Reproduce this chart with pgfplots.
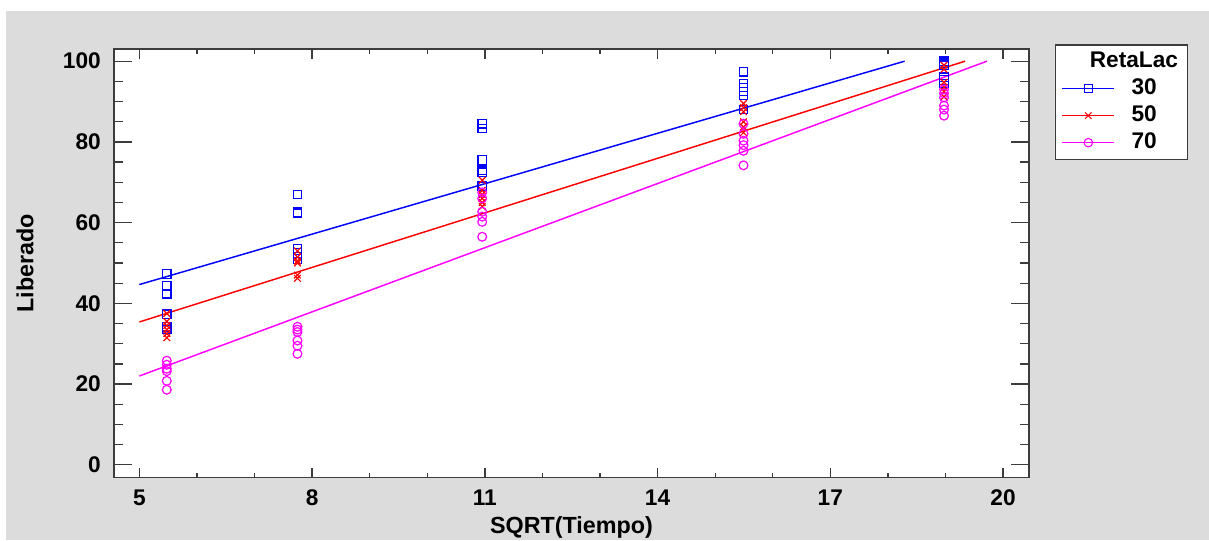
\documentclass[border=0pt]{standalone}
\usepackage{fontspec}
\setmainfont{Liberation Sans}
\usepackage{pgfplots}
\pgfplotsset{compat=1.18}
\definecolor{bggray}{RGB}{220,220,220}
\definecolor{axgray}{RGB}{60,60,60}
\definecolor{sblue}{RGB}{0,0,255}
\definecolor{sred}{RGB}{255,0,0}
\definecolor{smag}{RGB}{255,0,255}
\begin{document}
\begin{tikzpicture}
\path[use as bounding box] (0pt,0pt) rectangle (906.75pt,-405pt);
\fill[bggray] (4.5pt,-8.25pt) rectangle (906.75pt,-405pt);
\begin{axis}[
  at={(85.5pt,-358.3pt)}, anchor=south west,
  scale only axis, width=686.25pt, height=321.5pt,
  xmin=4.56, xmax=20.45, ymin=-3.2, ymax=103,
  axis background/.style={fill=white},
  axis line style={axgray, line width=1.1pt},
  tick align=inside,
  xtick={5,8,11,14,17,20}, minor x tick num=2,
  ytick={0,20,40,60,80,100}, minor y tick num=3,
  every tick/.style={axgray, line width=1pt},
  xtick style={/pgfplots/major tick length=7.5pt,/pgfplots/minor tick length=3.75pt},
  ytick style={/pgfplots/major tick length=13.5pt,/pgfplots/minor tick length=7pt},
  tick label style={font=\fontsize{17}{20}\selectfont\bfseries},
  /pgf/number format/assume math mode=true,
  xticklabel style={inner sep=0pt, anchor=north, yshift=-9pt},
  yticklabel style={inner sep=0pt, anchor=east, xshift=-9.75pt},
  xlabel={SQRT(Tiempo)},
  xlabel style={font=\fontsize{17.5}{20}\selectfont\bfseries, at={(axis description cs:0.5,-0.117)}, anchor=center},
  ylabel={Liberado},
  ylabel style={font=\fontsize{17.5}{20}\selectfont\bfseries, at={(axis description cs:-0.0973,0.5)}, anchor=center},
  legend style={at={(axis description cs:1.0284,1.0117)}, anchor=north west, draw=axgray, line width=1.1pt, fill=white, inner sep=4.5pt, row sep=4.3pt, font=\fontsize{17}{20}\selectfont\bfseries, nodes={inner sep=0pt, text height=12.5pt, text depth=3.5pt}, /tikz/every odd column/.append style={column sep=12.5pt}},
  legend cell align=left,
  legend image code/.code={\draw[mark repeat=2,mark phase=2] plot coordinates {(0pt,0pt) (19.5pt,0pt) (39pt,0pt)};},
]
\addlegendimage{empty legend}
\addlegendentry{\hspace*{-31.3pt}RetaLac\hspace*{2.5pt}}
\addlegendimage{sblue, line width=0.9pt, mark=square, mark size=3.2pt, mark options={line width=0.8pt}}
\addlegendentry{30}
\addlegendimage{sred, line width=0.9pt, mark=x, mark size=3.4pt, mark options={line width=0.8pt}}
\addlegendentry{50}
\addlegendimage{smag, line width=0.9pt, mark=o, mark size=3.2pt, mark options={line width=0.8pt}}
\addlegendentry{70}

\addplot[sblue, line width=1.1pt, forget plot] coordinates {(5,44.66) (18.29,100)};
\addplot[sred, line width=1.1pt, forget plot] coordinates {(5,35.39) (19.34,100)};
\addplot[smag, line width=1.1pt, forget plot] coordinates {(5,22.0) (19.72,100)};

\addplot[only marks, sblue, mark=square, mark size=3.2pt, mark options={line width=0.9pt}, forget plot] coordinates {
(5.477,47.3)(5.477,44.3)(5.477,42.4)(5.477,37.3)(5.477,34.2)(5.477,33.5)
(7.746,67.0)(7.746,62.6)(7.746,62.3)(7.746,53.6)(7.746,52.5)(7.746,51.0)
(10.954,84.5)(10.954,83.3)(10.954,75.5)(10.954,73.0)(10.954,72.5)(10.954,69.0)
(15.492,97.4)(15.492,94.5)(15.492,93.5)(15.492,92.5)(15.492,91.5)(15.492,88.0)
(18.974,100.0)(18.974,99.5)(18.974,99.0)(18.974,96.0)(18.974,95.3)(18.974,94.5)
};
\addplot[only marks, sred, mark=x, mark size=3.5pt, mark options={line width=0.9pt}, forget plot] coordinates {
(5.477,37.5)(5.477,35.5)(5.477,34.5)(5.477,33.5)(5.477,32.5)(5.477,31.5)
(7.746,53.0)(7.746,51.5)(7.746,50.5)(7.746,50.0)(7.746,47.0)(7.746,46.2)
(10.954,70.5)(10.954,68.0)(10.954,67.0)(10.954,66.0)(10.954,65.0)(10.954,64.0)
(15.492,89.5)(15.492,88.5)(15.492,87.5)(15.492,85.0)(15.492,83.7)(15.492,82.3)
(18.974,99.0)(18.974,98.0)(18.974,94.8)(18.974,93.5)(18.974,92.5)(18.974,91.2)
};
\addplot[only marks, smag, mark=o, mark size=3.3pt, mark options={line width=0.9pt}, forget plot] coordinates {
(5.477,25.8)(5.477,24.8)(5.477,23.8)(5.477,23.2)(5.477,20.8)(5.477,18.6)
(7.746,34.2)(7.746,33.5)(7.746,32.9)(7.746,30.8)(7.746,29.5)(7.746,27.5)
(10.954,67.5)(10.954,66.0)(10.954,62.7)(10.954,61.5)(10.954,60.2)(10.954,56.5)
(15.492,84.5)(15.492,82.0)(15.492,80.3)(15.492,79.2)(15.492,77.8)(15.492,74.2)
(18.974,93.0)(18.974,92.0)(18.974,91.0)(18.974,89.0)(18.974,88.0)(18.974,86.5)
};
\end{axis}
\end{tikzpicture}
\end{document}
